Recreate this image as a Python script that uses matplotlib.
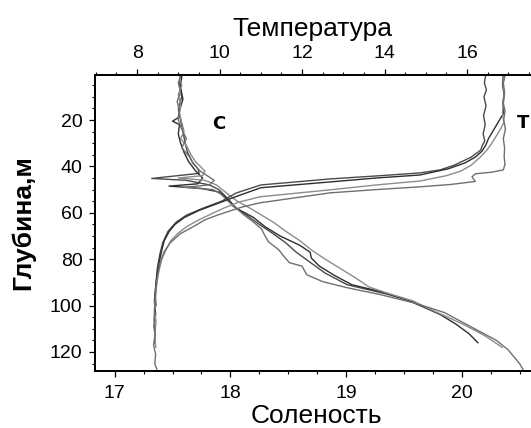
import matplotlib
matplotlib.use("Agg")
import matplotlib.pyplot as plt
from matplotlib.ticker import MultipleLocator

plt.rcParams['font.family'] = ['Liberation Sans', 'DejaVu Sans']

# --- salinity profiles (depth, m / salinity) ---
d_s1 = [1, 5, 10, 15, 20, 25, 30, 34, 38, 41, 43, 44.5, 45.2, 46, 48, 50, 53, 57, 61, 65, 69, 73, 77,
        81, 86, 91, 95, 98.7]
s_s1 = [17.57, 17.56, 17.58, 17.55, 17.57, 17.59, 17.61, 17.63, 17.67, 17.72, 17.73, 17.45, 17.32, 17.62,
        17.82, 17.9, 17.96, 18.02, 18.14, 18.25, 18.37, 18.48, 18.57, 18.68, 18.82, 19.01, 19.35, 19.6]

d_s2 = [1, 6, 11, 16, 19, 20.5, 22, 26, 30, 34, 38, 42, 45, 47.5, 48.5, 49.5, 51, 54, 58, 62, 66, 70,
        74, 77, 79.5, 83, 87, 91, 94, 97, 100, 104, 108, 112, 116]
s_s2 = [17.58, 17.57, 17.59, 17.56, 17.55, 17.50, 17.56, 17.55, 17.57, 17.60, 17.64, 17.70, 17.76, 17.72,
        17.47, 17.75, 17.9, 17.98, 18.05, 18.2, 18.3, 18.43, 18.6, 18.69, 18.70, 18.77, 18.9, 19.05,
        19.3, 19.5, 19.64, 19.82, 19.95, 20.06, 20.14]

d_s3 = [1, 5, 9, 13, 17, 21, 25, 28, 31, 35, 38, 40, 42, 44, 45, 46, 48, 50, 52, 55, 58, 61, 64, 68,
        72, 76, 80, 84, 88, 92, 95, 98, 101, 105, 109, 113, 118]
s_s3 = [17.56, 17.58, 17.55, 17.57, 17.56, 17.58, 17.60, 17.57, 17.62, 17.66, 17.70, 17.74, 17.78, 17.76,
        17.55, 17.78, 17.88, 17.93, 17.98, 18.06, 18.17, 18.27, 18.37, 18.48, 18.6, 18.7, 18.82, 18.95,
        19.08, 19.2, 19.38, 19.58, 19.7, 19.88, 20.05, 20.2, 20.35]

d_s4 = [1, 4, 8, 12, 16, 20, 24, 28, 32, 36, 39, 42, 44, 46, 48, 49, 50, 52, 55, 58, 61, 64, 67, 70,
        72.5, 76, 78, 81.5, 83, 86.7, 89.7, 92.3, 95.3, 99, 103, 107, 111, 115, 119, 122, 125, 127.5]
s_s4 = [17.57, 17.55, 17.57, 17.54, 17.56, 17.55, 17.58, 17.62, 17.58, 17.65, 17.68, 17.74, 17.8, 17.86,
        17.82, 17.6, 17.85, 17.92, 17.98, 18.05, 18.12, 18.2, 18.27, 18.3, 18.33, 18.42, 18.45, 18.51,
        18.62, 18.66, 18.8, 19.01, 19.3, 19.6, 19.85, 20.0, 20.15, 20.3, 20.4, 20.45, 20.5, 20.53]

# --- temperature profiles (depth, m / temperature) ---
d_t1 = [1, 4, 7, 10, 14, 18, 22, 26, 29, 31, 33, 36, 39.4, 41.5, 42.8, 44, 45.4, 48, 51.5, 55, 58, 61,
        64, 68, 73, 78, 84, 90, 95, 100]
t_t1 = [16.45, 16.42, 16.47, 16.41, 16.46, 16.40, 16.44, 16.39, 16.43, 16.37, 16.33, 16.1, 15.7, 15.35,
        14.86, 13.9, 12.68, 11.0, 10.4, 10.05, 9.6, 9.2, 8.95, 8.75, 8.62, 8.55, 8.49, 8.46, 8.44, 8.46]

d_t2 = [1, 5, 9, 13, 17, 19, 22, 25, 28, 31, 33.5, 36, 38.5, 41, 43.7, 45, 46.7, 49.2, 53, 56, 59, 62,
        65, 68, 72, 76, 81, 86, 92, 98, 104, 109, 113, 116]
t_t2 = [16.88, 16.86, 16.90, 16.87, 16.89, 16.82, 16.72, 16.62, 16.52, 16.45, 16.36, 16.2, 15.95, 15.55,
        14.86, 13.8, 12.68, 11.0, 10.4, 9.95, 9.5, 9.15, 8.92, 8.78, 8.66, 8.6, 8.54, 8.49, 8.45, 8.42,
        8.45, 8.41, 8.44, 8.42]

d_t3 = [1, 5, 9, 13, 17, 21, 23, 26, 30, 33, 36, 39.5, 42, 44, 46.3, 48, 50.1, 53.1, 55.5, 58, 60.5,
        63, 66, 69, 72, 76, 80, 85, 90, 96, 102, 107, 112, 118]
t_t3 = [16.90, 16.87, 16.91, 16.88, 16.86, 16.89, 16.84, 16.74, 16.6, 16.48, 16.32, 16.1, 15.85, 15.5,
        14.86, 13.8, 12.68, 10.98, 10.45, 10.1, 9.8, 9.5, 9.2, 8.98, 8.82, 8.7, 8.6, 8.53, 8.48, 8.45,
        8.42, 8.46, 8.43, 8.45]

d_t4 = [1, 4, 8, 12, 16, 20, 24, 28, 32, 36, 39, 41.5, 42.5, 43.2, 44.5, 46.5, 47.8, 48.8, 50, 51.4,
        55.7, 57.5, 59.5, 61, 63, 66, 69, 73, 77, 82, 88, 94, 100, 106, 112, 117, 121, 125, 127.5]
t_t4 = [16.92, 16.88, 16.91, 16.87, 16.92, 16.89, 16.93, 16.88, 16.91, 16.9, 16.92, 16.88, 16.6, 16.2,
        16.12, 16.2, 15.6, 14.86, 13.8, 12.68, 10.98, 10.55, 10.2, 9.95, 9.65, 9.36, 9.05, 8.8, 8.65,
        8.55, 8.49, 8.45, 8.43, 8.41, 8.44, 8.40, 8.45, 8.43, 8.48]

sal_profiles = [(d_s1, s_s1), (d_s2, s_s2), (d_s3, s_s3), (d_s4, s_s4)]
temp_profiles = [(d_t1, t_t1), (d_t2, t_t2), (d_t3, t_t3), (d_t4, t_t4)]
line_colors = ['#4a4a4a', '#2e2e2e', '#8c8c8c', '#6f6f6f']

W, H = 531, 428
fig = plt.figure(figsize=(W / 100, H / 100), dpi=100)
ax = fig.add_axes([95 / W, (H - 371) / H, (545 - 95) / W, (371 - 75) / H])
ax2 = ax.twiny()

for (d, s), c in zip(sal_profiles, line_colors):
    ax.plot(s, d, color=c, lw=1.0)
for (d, t), c in zip(temp_profiles, line_colors):
    ax2.plot(t, d, color=c, lw=1.0)

ax.set_xlim(16.83, 20.72)
ax2.set_xlim(6.98, 17.89)
ax.set_ylim(128.2, 0.6)

ax.xaxis.set_major_locator(MultipleLocator(1))
ax.xaxis.set_minor_locator(MultipleLocator(0.25))
ax.yaxis.set_minor_locator(MultipleLocator(5))
ax.set_yticks([20, 40, 60, 80, 100, 120])
ax2.xaxis.set_major_locator(MultipleLocator(2))
ax2.xaxis.set_minor_locator(MultipleLocator(0.5))

for a in (ax, ax2):
    a.tick_params(which='major', direction='out', length=4, width=0.9, labelsize=14, pad=5)
    a.tick_params(which='minor', direction='out', length=2.5, width=0.8)
    for sp in a.spines.values():
        sp.set_linewidth(1.3)
ax.tick_params(axis='x', pad=6)

fig.text(312 / W, 1 - 36 / H, 'Температура', ha='center', va='baseline', fontsize=19)
fig.text(316 / W, 5 / H, 'Соленость', ha='center', va='baseline', fontsize=19)
fig.text(23 / W, 1 - 223 / H, 'Глубина,м', ha='center', va='center', rotation=90,
         fontsize=19, fontweight='bold')

ax.text(17.9, 21.8, 'С', ha='center', va='center', fontsize=13, fontweight='bold',
        family=['DejaVu Sans'])
ax.text(20.53, 21.5, 'Т', ha='center', va='center', fontsize=13, fontweight='bold',
        family=['DejaVu Sans'])

fig.savefig('out.png', dpi=100)
